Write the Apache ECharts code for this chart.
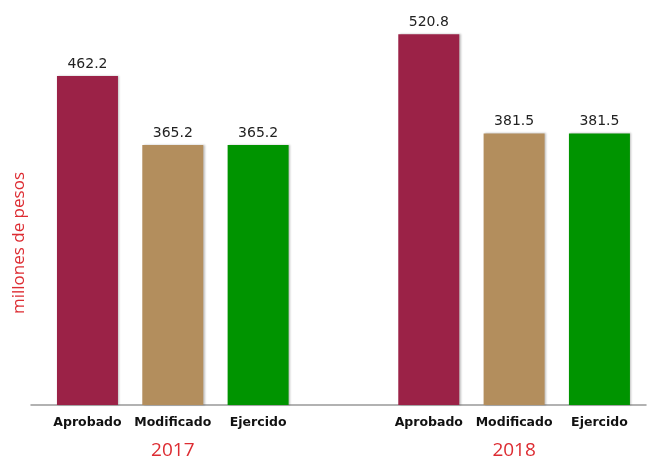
<!DOCTYPE html>
<html>
<head>
<meta charset="utf-8">
<script src="https://cdn.jsdelivr.net/npm/echarts@6/dist/echarts.min.js"></script>
<style>html,body{margin:0;padding:0;background:#fff}#c{width:647px;height:458px}</style>
</head>
<body>
<div id="c"></div>
<script>
var categories = ['Aprobado', 'Modificado', 'Ejercido', '', 'Aprobado', 'Modificado', 'Ejercido'];
var yearLabels = ['', '2017', '', '', '', '2018', ''];
var values = [462.2, 365.2, 365.2, null, 520.8, 381.5, 381.5];
var barColors = ['#9B2247', '#B38E5D', '#009400', null, '#9B2247', '#B38E5D', '#009400'];
var yAxisTitle = 'millones de pesos';

var font = 'Open Sans';
var wide = 'DejaVu Sans';
var chart = echarts.init(document.getElementById('c'));
var seriesData = values.map(function (v, i) {
  return { value: v, itemStyle: { color: barColors[i] || '#fff' } };
});
chart.setOption({
  animation: false,
  textStyle: { fontFamily: font },
  grid: [
    { left: 44.8, right: 4.9, top: 13.5, bottom: 53, outerBoundsMode: 'none', containLabel: false },
    { left: 31, right: 1, top: 13.5, bottom: 53, outerBoundsMode: 'none', containLabel: false }
  ],
  xAxis: [
    {
      type: 'category', gridIndex: 0, data: categories,
      axisLine: { show: false }, axisTick: { show: false },
      axisLabel: { color: '#111', fontWeight: 'bold', fontSize: 12.5, margin: 11, fontFamily: wide, interval: 0 }
    },
    {
      type: 'category', gridIndex: 0, data: yearLabels, position: 'bottom', offset: 24,
      axisLine: { show: false }, axisTick: { show: false },
      axisLabel: { color: '#DD2C32', fontSize: 19, margin: 12, fontFamily: font, interval: 0 }
    },
    {
      type: 'category', gridIndex: 1, data: [''],
      axisLine: { show: true, lineStyle: { color: '#999', width: 1.5 } },
      axisTick: { show: false }, axisLabel: { show: false }
    }
  ],
  yAxis: [
    { type: 'value', gridIndex: 0, min: 0, max: 550, show: false },
    { type: 'value', gridIndex: 1, min: 0, max: 550, show: false }
  ],
  graphic: [{
    type: 'text', left: 11, top: 172, rotation: Math.PI / 2,
    style: { text: yAxisTitle, fill: '#DD2C32', fontSize: 17, fontFamily: font }
  }],
  series: [{
    type: 'bar', xAxisIndex: 0, yAxisIndex: 0, barWidth: 61,
    data: seriesData,
    itemStyle: { shadowColor: 'rgba(0,0,0,0.25)', shadowBlur: 2, shadowOffsetX: 1.5 },
    label: {
      show: true, position: 'top', distance: 5, color: '#222', fontSize: 14, fontFamily: wide,
      formatter: function (p) { return p.value == null ? '' : p.value.toFixed(1); }
    }
  }]
});
</script>
</body>
</html>
